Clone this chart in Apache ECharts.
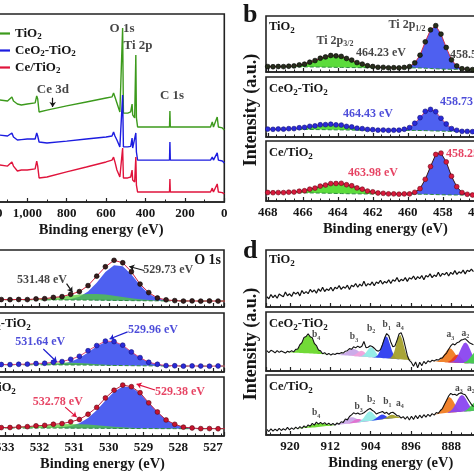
<!DOCTYPE html>
<html><head><meta charset="utf-8">
<script src="https://cdn.jsdelivr.net/npm/echarts@6/dist/echarts.min.js"></script>
<style>html,body{margin:0;padding:0;background:#fff}#c{width:474px;height:474px}</style>
</head><body><div id="c"></div>
<script>
// ---------- Panel a: survey ----------
const aE = [1200,1140,1100,1078,1070,1050,1030,1000,960,955,952,947,940,900,800,700,600,570,562,555,545,530,520,516,512,490,475,468,465,455,449,446,440,300,278,276,274,70,61,55,36,30,10,0];
const aTiO2 = [54.5,54.3,53.7,55.9,53.7,52.1,51.6,52.1,52.7,53.2,56.4,54.8,47.9,48.9,51.1,53.2,55.3,55.9,58.0,55.9,52.7,47.9,47.3,92.6,47.3,47.3,47.9,52.1,46.3,44.7,78.2,44.7,39.9,39.9,39.9,48.4,39.9,39.9,42.6,39.9,45.2,39.9,39.4,38.3];
const aCeO2 = [35.8,35.6,35.1,36.7,34.6,33.0,33.2,33.5,33.5,33.8,36.7,35.1,31.9,31.4,32.4,33.5,34.6,35.1,37.2,35.1,33.0,29.3,29.3,56.9,29.3,29.3,29.6,34.0,28.7,28.2,36.7,26.6,22.3,22.3,22.3,31.9,22.3,22.3,23.9,22.3,26.1,22.3,21.8,20.7];
const aCe = [19.9,19.7,19.1,21.3,19.1,16.5,17.0,17.0,17.6,18.0,21.8,19.1,12.8,13.3,16.0,18.6,21.3,22.3,23.9,21.3,17.0,13.3,12.8,28.7,12.8,12.8,13.3,17.0,11.7,10.6,23.9,9.0,5.3,5.3,5.3,12.2,5.3,5.3,7.4,5.3,9.6,5.3,5.0,4.3];

// ---------- Panel b: Ti 2p ----------
const bE = [468,467.7,467.4,467.1,466.8,466.5,466.2,465.9,465.6,465.3,465,464.7,464.4,464.1,463.8,463.5,463.2,462.9,462.6,462.3,462,461.7,461.4,461.1,460.8,460.5,460.2,459.9,459.6,459.3,459,458.7,458.4,458.1,457.8,457.5,457.2,456.9,456.6,456.3,456,455.7,455.4];
const bBase1 = [9.5,9.5,9.4,9.4,9.3,9.3,9.2,9.1,9.0,8.9,8.8,8.6,8.5,8.3,8.2,8.0,7.9,7.8,7.7,7.7,7.6,7.6,7.6,7.5,7.5,7.5,7.4,7.4,7.3,7.1,6.7,6.2,5.7,5.3,5.0,4.8,4.7,4.6,4.6,4.5,4.5,4.5,4.5];
const bGreen1 = [0,0.1,0.15,0.4,0.8,1.7,3.1,5.2,8.2,11.8,15.4,18.6,20.6,20.9,19.4,16.6,13.0,9.3,6.1,3.7,2.0,1.0,0.5,0.2,0,0,0,0,0,0,0,0,0,0,0,0,0,0,0,0,0,0,0];
const bBlue1 = [0,0,0,0,0,0,0,0,0,0,0,0,0,0,0,0,0,0,0,0,0,0,0,0,0,0,0.5,2.4,8.6,23.3,46.7,69.5,76.7,62.9,38.3,17.3,5.8,1.5,0.3,0,0,0,0];
const bData1 = [9.7,9.4,9.8,9.6,10.3,10.8,12.6,14.0,17.5,20.4,24.6,26.9,29.5,28.8,27.9,24.2,21.3,16.8,14.1,11.2,9.8,8.4,8.3,7.5,7.7,7.3,8.1,9.6,16.3,30.0,53.9,75.2,82.8,67.7,43.8,21.7,10.8,5.9,5.1,4.3,4.6,4.4,4.6];
const bBase2 = [13,13,12.9,12.9,12.8,12.8,12.7,12.6,12.5,12.4,12.3,12.2,12.0,11.9,11.8,11.6,11.5,11.4,11.3,11.3,11.2,11.2,11.2,11.1,11.1,11.1,11.0,11.0,10.9,10.8,10.6,10.3,10.0,9.8,9.6,9.4,9.3,9.2,9.1,9.1,9.0,9.0,9.0];
const bGreen2 = [0,0.1,0.2,0.4,0.8,1.5,2.4,3.6,5.0,6.4,7.8,8.7,9.0,8.7,7.8,6.4,5.0,3.6,2.4,1.5,0.8,0.4,0.2,0.1,0,0,0,0,0,0,0,0,0,0,0,0,0,0,0,0,0,0,0];
const bBlue2 = [0,0,0,0,0,0,0,0,0,0,0,0,0,0,0,0,0,0,0,0,0,0,0,0,0,0.4,1.6,4.9,11.7,21.8,31.8,36,31.8,21.8,11.7,4.9,1.6,0.4,0.1,0,0,0,0];
const bData2 = [13.2,12.8,13.3,13.1,13.9,14.0,15.4,16.0,17.8,18.5,20.4,20.6,21.3,20.3,19.9,17.7,16.8,14.7,13.9,12.6,12.2,11.4,11.6,11.0,11.3,11.4,12.9,15.6,22.9,32.2,42.8,46.0,42.3,31.2,21.7,14.0,11.2,9.4,9.3,8.9,9.1,8.8,9.1];
const bBase3 = [14.0,14.0,13.9,13.9,13.8,13.8,13.7,13.6,13.5,13.3,13.2,13.0,12.8,12.6,12.4,12.2,12.0,11.9,11.8,11.7,11.7,11.6,11.6,11.6,11.5,11.5,11.5,11.4,11.4,11.3,11.2,11.0,10.7,10.4,10.2,10.1,10.0,10.0,10.0,10.0,10.0,10.0,10.0];
const bGreen3 = [0,0.1,0.1,0.3,0.7,1.3,2.3,3.8,5.9,8.5,11.2,13.9,15.9,16.9,16.7,15.3,13.1,10.3,7.6,5.2,3.3,1.9,1.0,0.5,0.2,0.1,0,0,0,0,0,0,0,0,0,0,0,0,0,0,0,0,0];
const bBlue3 = [0,0,0,0,0,0,0,0,0,0,0,0,0,0,0,0,0,0,0,0,0,0,0,0,0,0,0.1,0.6,2.8,9.6,24.6,46.9,66.5,69.8,54.5,31.6,13.6,4.4,1.0,0.2,0,0,0];
const bData3 = [14.2,13.8,14.1,14.0,14.7,14.9,16.3,17.1,19.7,21.5,24.8,26.6,29.0,29.2,29.5,27.1,25.4,21.8,19.7,16.6,15.3,13.3,12.8,11.9,11.9,11.4,11.8,11.8,14.5,20.6,36.2,57.4,77.6,79.8,65.1,41.3,23.9,14.1,11.2,10.0,10.2,9.8,10.1];

// ---------- Panel c: O 1s ----------
const cE = [533.35,533.1,532.85,532.6,532.35,532.1,531.85,531.6,531.35,531.1,530.85,530.6,530.35,530.1,529.85,529.6,529.35,529.1,528.85,528.6,528.35,528.1,527.85,527.6,527.35,527.1,526.85,526.6];
const cBase1 = [12.8,12.8,12.7,12.7,12.6,12.6,12.5,12.5,12.4,12.3,12.2,12.1,12.0,11.8,11.6,11.4,11.2,11.0,10.9,10.8,10.7,10.6,10.6,10.5,10.5,10.5,10.5,10.5];
const cGreen1 = [0,0.05,0.1,0.3,0.65,1.3,2.4,3.9,5.8,7.9,9.7,10.8,10.9,10.0,8.3,6.3,4.3,2.6,1.5,0.8,0.35,0.15,0.05,0,0,0,0,0];
const cBlue1 = [0,0,0,0,0,0,0,0,0.4,1.7,5.6,14.9,30.7,49.4,61.7,60.3,45.8,27.1,12.5,4.5,1.3,0.3,0,0,0,0,0,0];
const cData1 = [12.6,13.1,12.9,13.2,13.0,14.2,14.6,16.8,18.2,22.3,27.0,37.5,54.1,70.6,81.9,77.6,61.8,40.2,25.3,15.8,12.6,11.2,10.4,10.7,10.3,10.6,10.4,10.5];
const cBase2 = [12.4,12.4,12.3,12.3,12.3,12.2,12.2,12.1,12.0,11.9,11.8,11.7,11.5,11.3,11.1,10.9,10.7,10.5,10.4,10.3,10.2,10.2,10.1,10.1,10.0,10.0,10.0,10.0];
const cGreen2 = [0.05,0.1,0.3,0.6,1.2,1.9,2.8,3.5,4.0,3.9,3.4,2.6,1.7,1.0,0.5,0.25,0.1,0,0,0,0,0,0,0,0,0,0,0];
const cBlue2 = [0,0,0,0,0,0,0,0.6,2.0,5.3,11.8,21.4,32.1,39.6,40.4,33.9,23.6,13.5,6.4,2.5,0.8,0.2,0,0,0,0,0,0];
const cData2 = [12.3,12.7,12.5,13.1,13.3,14.4,14.8,16.5,17.7,21.5,26.6,36.1,44.8,52.4,51.6,45.5,34.0,24.4,16.5,13.1,10.8,10.6,9.9,10.3,10.1,9.8,10.2,10.0];
const cBase3 = [13.6,13.6,13.6,13.5,13.5,13.5,13.4,13.4,13.4,13.3,13.3,13.2,13.1,13.0,12.9,12.8,12.7,12.6,12.6,12.5,12.5,12.4,12.4,12.4,12.4,12.4,12.4,12.4];
const cGreen3 = [0.3,0.5,0.9,1.6,2.5,3.5,4.7,5.8,6.6,7.0,6.7,6.2,5.2,4.0,2.9,1.9,1.2,0.7,0.35,0.2,0.1,0,0,0,0,0,0,0];
const cBlue3 = [0,0,0,0,0,0,0,0.4,1.3,3.5,8.3,17.2,30.6,47.0,62.3,71.2,70.1,59.6,43.7,27.6,15.0,7.1,2.9,1.0,0.3,0,0,0];
const cData3 = [13.7,14.2,14.4,15.3,15.8,17.3,18.0,19.9,21.0,24.1,28.0,36.9,48.5,64.4,77.6,86.3,83.6,73.4,56.2,40.7,27.2,19.8,15.0,13.6,12.5,12.6,12.3,12.5];

// ---------- Panel d: Ce 3d ----------
const dE = [924.6,924.19,923.78,923.37,922.96,922.55,922.14,921.73,921.32,920.91,920.5,920.09,919.68,919.27,918.86,918.45,918.04,917.63,917.22,916.81,916.4,915.99,915.58,915.17,914.76,914.35,913.94,913.53,913.12,912.71,912.3,911.89,911.48,911.07,910.66,910.25,909.84,909.43,909.02,908.61,908.2,907.79,907.38,906.97,906.56,906.15,905.74,905.33,904.92,904.51,904.1,903.69,903.28,902.87,902.46,902.05,901.64,901.23,900.82,900.41,900.0,899.59,899.18,898.77,898.36,897.95,897.54,897.13,896.72,896.31,895.9,895.49,895.08,894.67,894.26,893.85,893.44,893.03,892.62,892.21,891.8,891.39,890.98,890.57,890.16,889.75,889.34,888.93,888.52,888.11,887.7,887.29,886.88,886.47,886.06,885.65,885.24,884.83,884.42,884.01,883.6];
const dTiO2 = [18,14.5,22,16.4,20.9,15.4,22.8,20.3,17.8,26.2,19.7,23.2,18.6,26.1,22.6,26.1,19.5,29,23.5,26.9,23.4,30.9,26.3,29.8,24.3,31.8,27.2,34.7,27.2,31.6,29.1,34.6,28,34.5,32,37.5,30.9,35.4,32.9,38.3,30.8,38.3,35.7,41.2,34.7,40.2,36.6,45.1,36.6,41,38.5,44,37.4,43.9,41.4,46.9,40.3,44.8,42.3,47.7,41.2,47.7,45.1,51.6,44.1,48.6,46,51.5,45,51.4,48.9,54.4,47.8,53.3,49.8,55.3,47.7,55.2,52.7,58.1,51.6,56.1,53.5,61,53.5,59,56.4,60.9,54.4,60.8,57.3,63.8,57.2,61.7,59.2,64.7,58.1,64.6,62.1,66.5,62];
const dCeO2 = [34.5,31.2,35.0,33.4,30.8,34.6,31.5,33.9,32.2,30.4,33.5,32.0,34.2,32.4,36.6,37.3,44.5,48.1,56.8,58.5,63.2,58.0,56.3,46.9,43.2,35.5,34.1,29.2,31.0,27.6,29.8,27.0,29.3,28.1,30.2,29.4,31.1,30.4,33.6,34.4,37.9,36.8,41.0,39.2,42.1,39.8,41.9,50.0,39.5,40.3,42.8,41.5,38.6,34.9,33.7,36.2,45.0,55.8,63.5,60.1,49.2,41.0,42.3,51.6,62.8,65.0,55.7,41.2,26.3,17.9,14.5,8.0,15.2,5.5,14.8,9.0,16.3,12.2,17.4,15.0,18.2,17.1,19.3,18.5,21.4,22.3,26.8,30.5,36.9,42.5,46.1,44.2,47.8,49.1,52.3,53.5,54.8,51.6,47.9,46.2,44.5];
const dCe = [9.5,5.8,10.2,6.4,9.8,7.0,11.2,7.5,10.4,8.1,12.6,8.7,11.9,9.4,13.1,10.2,13.9,11.0,15.2,12.5,16.8,14.6,19.3,16.4,21.5,18.2,21.0,18.1,20.6,17.3,19.8,16.5,19.2,16.4,20.0,18.0,22.1,21.0,26.6,25.2,30.8,33.5,36.9,35.2,36.8,34.5,35.3,37.0,39.8,42.4,44.1,41.3,38.9,35.0,36.7,37.9,39.2,36.0,37.8,34.2,37.1,38.0,35.4,32.2,31.9,28.3,30.6,26.5,30.8,25.1,31.2,26.0,32.4,27.3,33.0,28.6,33.8,29.7,34.5,31.0,35.6,33.2,37.4,36.1,40.8,44.0,51.2,57.8,65.0,69.4,67.2,68.0,65.9,69.2,70.1,68.5,67.0,61.8,56.2,51.0,47.3];
const dBase2 = [[924.5,33],[916.4,30],[908.3,26],[900.1,21],[892,16],[880.6,11.5]];
const dBase3 = [[924.5,7],[914.7,13],[907.4,20],[900.9,27],[894.4,31],[888.7,37],[880.6,42]];
const dC2Green = [[920.4,0.1],[920,0.3],[919.6,0.9],[919.2,2.0],[918.8,4.2],[918.4,7.7],[918,12.7],[917.6,18.8],[917.2,24.8],[916.8,29.3],[916.4,31],[916,29.3],[915.6,24.8],[915.2,18.8],[914.8,12.7],[914.4,7.7],[914,4.2],[913.6,2.0],[913.2,0.9],[912.8,0.3],[912.4,0.1]];
const dC2Lav = [[911.4,0.05],[911,0.13],[910.6,0.35],[910.2,0.8],[909.8,1.6],[909.4,3.0],[909,4.9],[908.6,7.3],[908.2,9.6],[907.8,11.4],[907.4,12],[907,11.4],[906.6,9.6],[906.2,7.3],[905.8,4.9],[905.4,3.0],[905,1.6],[904.6,0.8],[904.2,0.35],[903.8,0.13],[903.4,0.05]];
const dC2Pink = [[908.2,0.1],[907.8,0.4],[907.4,1.35],[907,3.25],[906.6,6.1],[906.2,8.8],[905.8,10],[905.4,8.8],[905,6.1],[904.6,3.25],[904.2,1.35],[903.8,0.4],[903.4,0.1]];
const dC2Cyan = [[906.2,0.25],[905.8,1.0],[905.4,2.8],[905,6.4],[904.6,11.3],[904.2,15.7],[903.8,16.9],[903.4,14.2],[903,9.3],[902.6,4.7],[902.2,1.9],[901.8,0.6],[901.4,0.15]];
const dC2Blue = [[903.8,0.06],[903.4,0.3],[903,1.3],[902.6,4.2],[902.2,10.6],[901.8,20.7],[901.4,31.7],[901,37.8],[900.6,35.1],[900.2,25.3],[899.8,14.3],[899.4,6.2],[899,2.1],[898.6,0.6],[898.2,0.15]];
const dC2Olive = [[900.5,0.2],[900.1,1.2],[899.7,4.5],[899.3,12.5],[898.9,25.5],[898.5,38],[898.1,41.7],[897.7,33.6],[897.3,19.9],[896.9,8.7],[896.5,2.8],[896.1,0.6],[895.7,0.1]];
const dC2Orange = [[891.6,0.1],[891.2,0.4],[890.8,1.2],[890.4,2.8],[890,5.8],[889.6,10.2],[889.2,15.7],[888.8,20.8],[888.4,23.8],[888,23.4],[887.6,19.8],[887.2,14.5],[886.8,9.2],[886.4,5.0],[886,2.4],[885.6,1.0],[885.2,0.3]];
const dC2Red = [[889.2,0.15],[888.8,0.6],[888.4,1.9],[888,4.6],[887.6,8.5],[887.2,12.3],[886.8,14],[886.4,12.3],[886,8.5],[885.6,4.6],[885.2,1.9],[884.8,0.6],[884.4,0.15]];
const dC2Purple = [[888.3,0.4],[887.9,1.2],[887.5,2.9],[887.1,6.4],[886.7,12.0],[886.3,19.6],[885.9,27.5],[885.5,33.4],[885.1,34.9],[884.7,31.5],[884.3,24.5],[883.9,16.4],[883.5,9.5],[883.1,4.7],[882.7,2.0],[882.3,0.8]];
const dC2Green2 = [[885.5,0.9],[885.1,2.3],[884.7,4.9],[884.3,9.2],[883.9,14.1],[883.5,18.3],[883.1,20],[882.7,18.3],[882.3,14.1],[881.9,9.2],[881.5,4.9],[881.1,2.3],[880.7,0.9]];
const dC3Green = [[919.2,0.07],[918.8,0.14],[918.4,0.26],[918,0.5],[917.6,0.8],[917.2,1.3],[916.8,1.95],[916.4,2.75],[916,3.6],[915.6,4.5],[915.2,5.3],[914.8,5.8],[914.4,6],[914,5.8],[913.6,5.3],[913.2,4.5],[912.8,3.6],[912.4,2.75],[912,1.95],[911.6,1.3],[911.2,0.8],[910.8,0.5],[910.4,0.26],[910,0.14],[909.6,0.07]];
const dC3Lav = [[911.5,0.1],[911.1,0.3],[910.7,0.7],[910.3,1.35],[909.9,2.5],[909.5,4.1],[909.1,6.1],[908.7,8.0],[908.3,9.5],[907.9,10],[907.5,9.5],[907.1,8.0],[906.7,6.1],[906.3,4.1],[905.9,2.5],[905.5,1.35],[905.1,0.7],[904.7,0.3],[904.3,0.1]];
const dC3Pink = [[909,0.07],[908.6,0.26],[908.2,0.8],[907.8,1.95],[907.4,3.6],[907,5.3],[906.6,6],[906.2,5.3],[905.8,3.6],[905.4,1.95],[905,0.8],[904.6,0.26],[904.2,0.07]];
const dC3Cyan = [[906.6,0.4],[906.2,1.2],[905.8,3.1],[905.4,6.3],[905,10.6],[904.6,14.4],[904.2,16],[903.8,14.4],[903.4,10.6],[903,6.3],[902.6,3.1],[902.2,1.2],[901.8,0.4]];
const dC3Blue = [[904.2,0.09],[903.8,0.35],[903.4,1.1],[903,2.6],[902.6,4.9],[902.2,7.1],[901.8,8],[901.4,7.1],[901,4.9],[900.6,2.6],[900.2,1.1],[899.8,0.35],[899.4,0.09]];
const dC3Olive = [[902.2,0.07],[901.8,0.26],[901.4,0.8],[901,1.95],[900.6,3.6],[900.2,5.3],[899.8,6],[899.4,5.3],[899,3.6],[898.6,1.95],[898.2,0.8],[897.8,0.26],[897.4,0.07]];
const dC3Orange = [[891.6,0.1],[891.2,0.37],[890.8,1.1],[890.4,3.0],[890,6.5],[889.6,11.9],[889.2,18.4],[888.8,23.8],[888.4,26],[888,23.8],[887.6,18.4],[887.2,11.9],[886.8,6.5],[886.4,3.0],[886,1.1],[885.6,0.37],[885.2,0.1]];
const dC3Purple = [[888.7,0.75],[888.3,2.0],[887.9,4.4],[887.5,8.6],[887.1,14.4],[886.7,20.8],[886.3,26.0],[885.9,28],[885.5,26.0],[885.1,20.8],[884.7,14.4],[884.3,8.6],[883.9,4.4],[883.5,2.0],[883.1,0.75]];
const dC3Green2 = [[885.5,0.7],[885.1,1.7],[884.7,3.7],[884.3,6.9],[883.9,10.6],[883.5,13.7],[883.1,15],[882.7,13.7],[882.3,10.6],[881.9,6.9],[881.5,3.7]];

// ---------- helpers ----------
const FONT = "'Liberation Serif','Times New Roman',serif";
const K = '#161616';
function rich(size, color){
  return {s:{fontSize:Math.round(size*0.68), fontFamily:FONT, fontWeight:'bold', color:color, lineHeight:size+3, verticalAlign:'bottom'}};
}
function zip(xs, ys){ return xs.map((x,i)=>[x, ys[i]]); }
function bandPts(xs, base, comp){ return xs.map((x,i)=>[x, base[i], base[i]+comp[i]]); }
function baseAt(poly, e){
  for (let i=0;i<poly.length-1;i++){
    const a=poly[i], b=poly[i+1];
    if (e<=a[0] && e>=b[0]) return a[1]+(b[1]-a[1])*(a[0]-e)/(a[0]-b[0]);
  }
  return e>poly[0][0]?poly[0][1]:poly[poly.length-1][1];
}
function compPts(poly, comp){ return comp.map(p=>{const b=baseAt(poly,p[0]); return [p[0], b, b+p[1]];}); }
function fill(gi, pts, color, opacity, z){
  return {type:'custom', xAxisIndex:gi, yAxisIndex:gi, clip:true, silent:true, z:z||1,
    data:[[pts[0][0], pts[0][1]]],
    renderItem:function(params, api){
      const up = pts.map(p=>api.coord([p[0],p[2]]));
      const dn = pts.slice().reverse().map(p=>api.coord([p[0],p[1]]));
      return {type:'polygon', shape:{points:up.concat(dn)}, style:{fill:color, opacity:opacity==null?1:opacity}};
    }};
}
function line(gi, data, color, width, extra){
  return Object.assign({type:'line', xAxisIndex:gi, yAxisIndex:gi, data:data, showSymbol:false, symbol:'none',
    lineStyle:{color:color, width:width}, itemStyle:{color:color}, z:4, silent:true}, extra||{});
}
function dots(gi, data, fillC, border, lineC){
  return {type:'line', xAxisIndex:gi, yAxisIndex:gi, data:data, symbol:'circle', symbolSize:4.8, showSymbol:true, showAllSymbol:true,
    itemStyle:{color:fillC, borderColor:border, borderWidth:0.6}, lineStyle:{color:lineC, width:1}, z:5, silent:true};
}
function texts(gi, items){
  return {type:'scatter', xAxisIndex:gi, yAxisIndex:gi, symbolSize:1, itemStyle:{color:'rgba(0,0,0,0)'}, silent:true, z:10,
    data: items.map(t=>({value:[t[0],t[1]], label:{show:true, position:'inside', formatter:t[2], color:t[3], fontSize:t[4],
      fontFamily:FONT, fontWeight:'bold', align:t[5]||'center', verticalAlign:'middle', lineHeight:t[4]+3, rich:rich(t[4], t[3])}}))};
}
function arrows(gi, items, color){
  return {type:'lines', coordinateSystem:'cartesian2d', xAxisIndex:gi, yAxisIndex:gi, symbol:['none','arrow'], symbolSize:5, silent:true, z:9,
    lineStyle:{color:color, width:1.2, opacity:1}, data: items.map(c=>({coords:c}))};
}

// ---------- layout ----------
const grids = [
  {left:-22, top:14, width:246.3, height:188},            // a
  {left:266, top:16, width:246.75, height:56},            // b1
  {left:266, top:77, width:246.75, height:60},            // b2
  {left:266, top:141, width:246.75, height:60},           // b3
  {left:-33, top:250, width:257, height:57},              // c1
  {left:-33, top:313, width:257, height:59},              // c2
  {left:-33, top:377, width:257, height:59},              // c3
  {left:266, top:250, width:225.6, height:57},            // d1
  {left:266, top:312, width:225.6, height:59},            // d2
  {left:266, top:375, width:225.6, height:60}             // d3
].map(g=>Object.assign({show:true, borderColor:'#222', borderWidth:1.6, backgroundColor:'#fff', containLabel:false, outerBoundsMode:'none'}, g));

function xAx(gi, min, max, interval, show, split, namePad){
  const o = {type:'value', gridIndex:gi, inverse:true, min:min, max:max,
    axisLine:{show:true, onZero:false, lineStyle:{color:'#222', width:1.6}},
    axisTick:{show:true, inside:true, length:4, lineStyle:{color:'#222', width:1.2}},
    minorTick:{show:true, splitNumber:split, length:2.5, lineStyle:{color:'#222', width:1}},
    axisLabel:{show:show, color:K, fontFamily:FONT, fontWeight:'bold', fontSize:13, margin:5, hideOverlap:false},
    splitLine:{show:false}, minorSplitLine:{show:false}};
  if (interval) o.interval = interval; else o.splitNumber = 7;
  if (show){ o.name='Binding energy (eV)'; o.nameLocation='middle'; o.nameGap=21;
    o.nameTextStyle={color:K, fontFamily:FONT, fontWeight:'bold', fontSize:14.5, padding:namePad||0}; }
  return o;
}
const xAxes = [
  xAx(0, 0, 1250, 200, true, 2),
  xAx(1, 454, 468.1, 2, false, 4), xAx(2, 454, 468.1, 2, false, 4), xAx(3, 454, 468.1, 2, true, 4, [0,8,0,0]),
  xAx(4, 526.68, 534.09, null, false, 4), xAx(5, 526.68, 534.09, null, false, 4), xAx(6, 526.68, 534.09, null, true, 4, [0,0,0,14]),
  xAx(7, 880, 924.76, 8, false, 4), xAx(8, 880, 924.76, 8, false, 4), xAx(9, 880, 924.76, 8, true, 4, [0,0,0,24])
];
const yAxes = grids.map((g,i)=>({type:'value', gridIndex:i, min:0, max:100, show:false}));

const GREEN='#5cdc3c', BLUE='#4e60f0', DGREEN='#2d8a3e';
const series = [];
// panel a
series.push(line(0, zip(aE,aTiO2), '#3c9a1c', 1.4, {name:'TiO2'}));
series.push(line(0, zip(aE,aCeO2), '#1c1ce0', 1.4, {name:'CeO2-TiO2'}));
series.push(line(0, zip(aE,aCe), '#e0143c', 1.4, {name:'Ce/TiO2'}));
series.push(texts(0, [[519,92,'O 1s',K,13],[438,83,'Ti 2p',K,13],[870,60,'Ce 3d',K,13],[265,56.4,'C 1s',K,13]]));
series.push(arrows(0, [[[871,55.5],[871,50.5]]], K));

// panel b
const bSets = [[bBase1,bGreen1,bBlue1,bData1,'#262e1c','#000','#d0304a'],
               [bBase2,bGreen2,bBlue2,bData2,'#2a2ad8','#10107a','#e04878'],
               [bBase3,bGreen3,bBlue3,bData3,'#d81a3c','#6a0818','#3a1414']];
bSets.forEach((s,k)=>{
  const gi=1+k;
  series.push(fill(gi, bandPts(bE,s[0],s[1]), GREEN, 1, 1));
  series.push(fill(gi, bandPts(bE,s[0],s[2]), BLUE, 1, 1));
  series.push(line(gi, zip(bE,s[0]), DGREEN, 1, {lineStyle:{color:DGREEN,width:1,type:'dashed'}}));
  series.push(dots(gi, zip(bE,s[3]), s[4], s[5], s[6]));
});
series.push(texts(1, [[464.16,55.6,'Ti 2p{s|3/2}',K,12],[461.53,34,'464.23 eV',K,12],[460.04,84,'Ti 2p{s|1/2}',K,12],[457.59,31,'458.51 eV',K,12,'left']]));
series.push(texts(2, [[462.27,38,'464.43 eV','#2020d0',12],[458.16,58,'458.73 eV','#2020d0',12,'left']]));
series.push(texts(3, [[461.99,47,'463.98 eV','#e0143c',12],[457.81,78,'458.25 eV','#e0143c',12,'left']]));

// panel c
const cSets = [[cBase1,cGreen1,cBlue1,cData1,'#3a1c1c','#000','#d0203a'],
               [cBase2,cGreen2,cBlue2,cData2,'#2a2ad8','#10107a','#e04878'],
               [cBase3,cGreen3,cBlue3,cData3,'#c8142e','#5a0812','#c02040']];
cSets.forEach((s,k)=>{
  const gi=4+k;
  series.push(fill(gi, bandPts(cE,s[0],s[2]), BLUE, 1, 1));
  series.push(fill(gi, bandPts(cE,s[0],s[1]), '#52d030', 0.72, 2));
  series.push(line(gi, zip(cE,s[0]), DGREEN, 1, {lineStyle:{color:DGREEN,width:1,type:'dashed'}}));
  series.push(dots(gi, zip(cE,s[3]), s[4], s[5], s[6]));
});
series.push(texts(4, [[531.93,48,'531.48 eV',K,12],[528.29,65,'529.73 eV',K,12]]));
series.push(arrows(4, [[[531.22,41],[531.05,26]],[[528.98,64],[529.41,71]]], K));
series.push(texts(5, [[531.98,51,'531.64 eV','#2020d0',12],[528.73,71,'529.96 eV','#2020d0',12]]));
series.push(arrows(5, [[[531.89,39],[531.5,17]],[[529.46,68],[529.98,56]]], '#2020d0'));
series.push(texts(6, [[531.47,58,'532.78 eV','#e0143c',12],[527.95,75,'529.38 eV','#e0143c',12]]));
series.push(arrows(6, [[[531.26,49],[530.93,32]],[[528.67,78],[529.2,88]]], '#e0143c'));

// panel d
series.push(line(7, zip(dE,dTiO2), '#111', 1.2));
const d2 = [[dC2Green,'#6ad82c'],[dC2Lav,'#c8a6e8'],[dC2Pink,'#f0a2dc'],[dC2Cyan,'#90ece6'],[dC2Blue,'#2c3cf0'],[dC2Olive,'#a4a02c'],
            [dC2Orange,'#f07c22'],[dC2Red,'#e83a24'],[dC2Purple,'#8a44f0'],[dC2Green2,'#46d04a']];
d2.forEach(c=>series.push(fill(8, compPts(dBase2,c[0]), c[1], 0.95, 1)));
series.push(line(8, zip(dE,dCeO2), '#111', 1.1));
const d3 = [[dC3Green,'#6ad82c'],[dC3Lav,'#c8a6e8'],[dC3Pink,'#e070d0'],[dC3Cyan,'#90ece6'],[dC3Blue,'#2c3cf0'],[dC3Olive,'#a4a02c'],
            [dC3Orange,'#f07c22'],[dC3Purple,'#8a44f0'],[dC3Green2,'#46d04a']];
d3.forEach(c=>series.push(fill(9, compPts(dBase3,c[0]), c[1], 0.95, 1)));
series.push(line(9, zip(dE,dCe), '#111', 1.1));
series.push(texts(8, [[914.8,61,'b{s|4}',K,9.5],[907.3,58,'b{s|3}',K,9.5],[903.9,72,'b{s|2}',K,9.5],[900.8,78,'b{s|1}',K,9.5],[898.2,78,'a{s|4}',K,9.5],[888.2,61,'a{s|3}',K,9.5],[885.2,64,'a{s|2}',K,9.5]]));
series.push(texts(9, [[914.8,37,'b{s|4}',K,9.5],[906.4,47,'b{s|3}',K,9.5],[903.9,59,'b{s|2}',K,9.5],[900.7,55,'b{s|1}',K,9.5],[898.2,53,'a{s|4}',K,9.5],[886.5,78,'a{s|3}',K,9.5],[884.1,78,'a{s|2}',K,9.5]]));

// fixed text
function gtext(x,y,text,size,opts){
  return Object.assign({type:'text', x:x, y:y, z:100, silent:true,
    style:Object.assign({text:text, fill:K, font:'bold '+size+'px '+FONT, align:'left', verticalAlign:'middle',
      rich:{s:{fontSize:Math.round(size*0.68), fontFamily:FONT, fontWeight:'bold', fill:K, lineHeight:size+3, verticalAlign:'bottom'},
            n:{fontSize:size, fontFamily:FONT, fontWeight:'bold', fill:K, lineHeight:size+3}}}, (opts&&opts.style)||{})},
    opts&&opts.rotation!=null?{rotation:opts.rotation}:{});
}
const graphic = [
  gtext(243,15,'b',26), gtext(243,251,'d',26),
  gtext(251,110,'Intensity (a.u.)',18,{rotation:Math.PI/2,style:{align:'center'}}),
  gtext(251,344,'Intensity (a.u.)',18,{rotation:Math.PI/2,style:{align:'center'}}),
  gtext(269,27,'{n|TiO}{s|2}',12.5), gtext(269,89,'{n|CeO}{s|2}{n|-TiO}{s|2}',12.5), gtext(269,153,'{n|Ce/TiO}{s|2}',12.5),
  gtext(-28,324,'{n|CeO}{s|2}{n|-TiO}{s|2}',12.5), gtext(-28,388,'{n|Ce/TiO}{s|2}',12.5),
  gtext(221,260,'O 1s',14,{style:{align:'right'}}),
  gtext(269,260,'{n|TiO}{s|2}',12.5), gtext(269,324,'{n|CeO}{s|2}{n|-TiO}{s|2}',12.5), gtext(269,387,'{n|Ce/TiO}{s|2}',12.5)
];

const legendNames = {'TiO2':'TiO{s|2}','CeO2-TiO2':'CeO{s|2}-TiO{s|2}','Ce/TiO2':'Ce/TiO{s|2}'};
const chart = echarts.init(document.getElementById('c'), null, {renderer:'canvas'});
chart.setOption({
  animation:false, backgroundColor:'#fff',
  grid:grids, xAxis:xAxes, yAxis:yAxes, series:series, graphic:graphic,
  legend:{data:['TiO2','CeO2-TiO2','Ce/TiO2'], left:-15, top:21, orient:'vertical', icon:'rect', itemWidth:20, itemHeight:2.2, itemGap:2,
    formatter:n=>legendNames[n], selectedMode:false,
    textStyle:{color:K, fontFamily:FONT, fontWeight:'bold', fontSize:13, lineHeight:15,
      rich:{s:{fontSize:9, fontFamily:FONT, fontWeight:'bold', color:K, lineHeight:15, verticalAlign:'bottom'}}}}
});
</script></body></html>
